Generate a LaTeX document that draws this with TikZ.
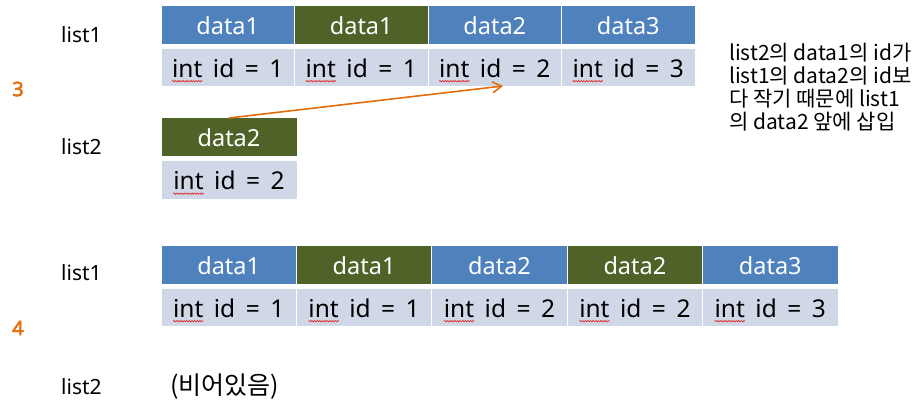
\documentclass[tikz,border=0pt]{standalone}
\usepackage{fontspec}
\setmainfont{Noto Sans}
\newfontfamily\kr{Noto Sans CJK KR}
\newfontfamily\bodyfont{Noto Sans}[WordSpace=1.65]
\newfontfamily\numfont{Noto Sans}[FakeBold=2.5]
\usetikzlibrary{arrows.meta,decorations.pathmorphing}
\definecolor{wavered}{HTML}{E02020}
\definecolor{hblue}{HTML}{4F81BD}
\definecolor{hgreen}{HTML}{4F6228}
\definecolor{bodyc}{HTML}{D0D8E8}
\definecolor{orng}{HTML}{E46C0A}
\newsavebox\wvbox
\newcommand\redwave[1]{\sbox\wvbox{#1}\usebox\wvbox\tikz[overlay,baseline=0pt,x=1pt,y=1pt]\draw[wavered, line width=0.6pt, decorate, decoration={snake, amplitude=0.7pt, segment length=2.6pt}] (-\wd\wvbox,-4pt) -- (0pt,-4pt);}
\newcommand\notefont{\kr\fontsize{21}{24}\selectfont}
\tikzset{
  cellbase/.style={draw=white, line width=1pt, inner sep=0pt, outer sep=0pt, anchor=north west},
  hb/.style={cellbase, fill=hblue, text=white, font=\fontsize{23.5}{28}\selectfont},
  hg/.style={cellbase, fill=hgreen, text=white, font=\fontsize{23.5}{28}\selectfont},
  bd/.style={cellbase, fill=bodyc, text=black, font=\bodyfont\fontsize{24.5}{28}\selectfont},
  lbl/.style={anchor=west, inner sep=0pt, font=\fontsize{21}{24}\selectfont},
  num/.style={anchor=center, inner sep=0pt, text=orng, font=\numfont\fontsize{20}{24}\selectfont},
  notestyle/.style={anchor=west, inner sep=0pt},
  ins/.style={draw=orng, line width=1.6pt, -{Straight Barb[length=9pt,width=11pt]}}
}
\newcommand\idtxt[1]{\redwave{int} id = #1}
\begin{document}
\begin{tikzpicture}[x=1pt,y=-1pt]
\useasboundingbox (0,0) rectangle (914,406);
% ---- step 3, list1
\node[hb, minimum width=133.5pt, minimum height=39pt] (a1h) at (161,6) {data1};
\node[hg, minimum width=133.5pt, minimum height=39pt] (a2h) at (294.5,6) {data1};
\node[hb, minimum width=133.5pt, minimum height=39pt] (a3h) at (428,6) {data2};
\node[hb, minimum width=133.5pt, minimum height=39pt] (a4h) at (561.5,6) {data3};
\node[bd, minimum width=133.5pt, minimum height=38pt] (a1b) at (161,49) {\idtxt{1}};
\node[bd, minimum width=133.5pt, minimum height=38pt] (a2b) at (294.5,49) {\idtxt{1}};
\node[bd, minimum width=133.5pt, minimum height=38pt] (a3b) at (428,49) {\idtxt{2}};
\node[bd, minimum width=133.5pt, minimum height=38pt] (a4b) at (561.5,49) {\idtxt{3}};
% ---- step 3, list2
\node[hg, minimum width=136pt, minimum height=39pt] (b1h) at (161,118) {data2};
\node[bd, minimum width=136pt, minimum height=39pt] (b1b) at (161,161) {\idtxt{2}};
% arrow
\coordinate (arrend) at (503,86);
\draw[ins] (b1h.north) -- (arrend);
% labels step 3
\node[lbl] (l31) at (61,35) {list1};
\node[num] (n3) at (18,89) {3};
\node[lbl] (l32) at (61,147) {list2};
\node[notestyle] (note1) at (729,53) {\notefont list2의 data1의 id가};
\node[notestyle] (note2) at (729,76) {\notefont list1의 data2의 id보};
\node[notestyle] (note3) at (729,99) {\notefont 다 작기 때문에 list1};
\node[notestyle] (note4) at (729,122) {\notefont 의 data2 앞에 삽입};
% ---- step 4, list1
\node[hb, minimum width=135.4pt, minimum height=39pt] (c1h) at (161,246) {data1};
\node[hg, minimum width=135.4pt, minimum height=39pt] (c2h) at (296.4,246) {data1};
\node[hb, minimum width=135.4pt, minimum height=39pt] (c3h) at (431.8,246) {data2};
\node[hg, minimum width=135.4pt, minimum height=39pt] (c4h) at (567.2,246) {data2};
\node[hb, minimum width=135.4pt, minimum height=39pt] (c5h) at (702.6,246) {data3};
\node[bd, minimum width=135.4pt, minimum height=38pt] (c1b) at (161,289) {\idtxt{1}};
\node[bd, minimum width=135.4pt, minimum height=38pt] (c2b) at (296.4,289) {\idtxt{1}};
\node[bd, minimum width=135.4pt, minimum height=38pt] (c3b) at (431.8,289) {\idtxt{2}};
\node[bd, minimum width=135.4pt, minimum height=38pt] (c4b) at (567.2,289) {\idtxt{2}};
\node[bd, minimum width=135.4pt, minimum height=38pt] (c5b) at (702.6,289) {\idtxt{3}};
% labels step 4
\node[lbl] (l41) at (61,273) {list1};
\node[num] (n4) at (18,328) {4};
\node[lbl] (l42) at (61,387) {list2};
\node[lbl, font=\kr\fontsize{25}{28}\selectfont] (empty) at (170,387) {(비어있음)};
\end{tikzpicture}
\end{document}
